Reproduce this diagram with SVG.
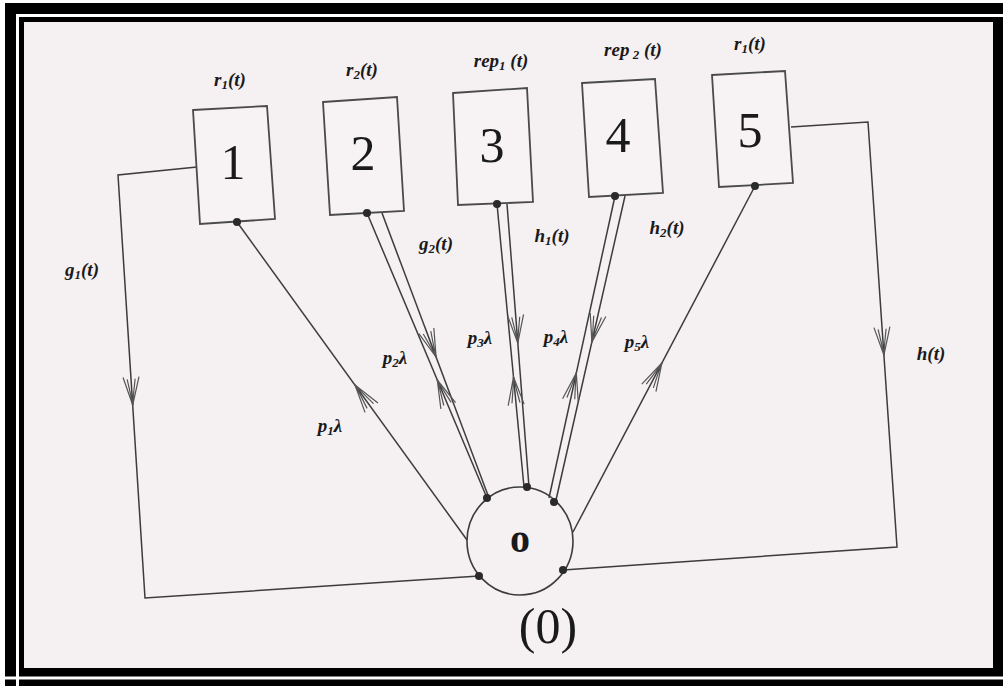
<svg xmlns="http://www.w3.org/2000/svg" width="1006" height="688" viewBox="0 0 1006 688">
<style>
.box{fill:#f7f3f5;stroke:#4a4a4a;stroke-width:1.8}
.ln{fill:none;stroke:#3c3c3c;stroke-width:1.5}
.ah{fill:none;stroke:#3c3c3c;stroke-width:1.5;marker-end:url(#arr)}
.dot{fill:#2a2a2a}
.num{font-family:"Liberation Serif",serif;font-size:50px;fill:#1a1a1a;text-anchor:middle}
.lab{font-family:"Liberation Serif",serif;font-size:19px;font-style:italic;font-weight:bold;fill:#1a1a1a;text-anchor:middle}
.sub{font-size:13px}
</style>
<defs>
<marker id="arr" markerUnits="userSpaceOnUse" viewBox="-32 -14 36 28" markerWidth="36" markerHeight="28" refX="0" refY="0" orient="auto" overflow="visible">
<path d="M-28,-8 L0,0 L-28,8 M-26,-4 L-2,0 L-26,4" fill="none" stroke="#555555" stroke-width="1.2"/>
</marker>
</defs>
<rect x="0" y="0" width="1006" height="688" fill="#ffffff"/>
<rect x="5" y="3" width="998" height="683" fill="#000000"/>
<path d="M17.5,686 V15.5 H1003 M5,678 H1003" fill="none" stroke="#ffffff" stroke-width="3"/>
<rect x="24" y="22" width="969" height="646" fill="#f5f0f2"/>

<g id="connectors">
<polyline class="ln" points="197,167 118,175 145,598 479,576"/>
<polyline class="ln" points="791,127 868,122 897,547 563,570"/>
<path class="ah" d="M132.1,395 L132.7,405"/>
<path class="ah" d="M883.2,345 L883.9,355"/>
<line class="ln" x1="237" y1="222" x2="467" y2="540"/>
<path class="ah" d="M360.9,393.1 L355,385"/>
<line class="ln" x1="367" y1="213" x2="487" y2="498"/>
<line class="ln" x1="382" y1="213" x2="489" y2="498"/>
<path class="ah" d="M432.6,347.6 L436.1,357"/>
<path class="ah" d="M441.2,389.2 L437.3,380"/>
<line class="ln" x1="497" y1="204" x2="524" y2="487"/>
<line class="ln" x1="507" y1="204" x2="529" y2="487"/>
<path class="ah" d="M517,333 L517.8,343"/>
<path class="ah" d="M514.45,386.95 L513.5,377"/>
<line class="ln" x1="615" y1="196" x2="549" y2="498"/>
<line class="ln" x1="625" y1="196" x2="556" y2="500"/>
<path class="ah" d="M594.1,332.2 L591.9,342"/>
<path class="ah" d="M574.2,382.8 L576.3,373"/>
<line class="ln" x1="755" y1="186" x2="573" y2="532"/>
<path class="ah" d="M657.25,371.85 L661.9,363"/>
</g>

<g id="node-1">
<polygon class="box" points="193,110 267,106 275,219 200,224"/>
<text class="num" x="233" y="179">1</text>
<circle class="dot" cx="237" cy="222" r="4"/>
<text class="lab" x="230" y="86">r<tspan class="sub" dy="3">1</tspan><tspan dy="-3">(t)</tspan></text>
</g>
<g id="node-2">
<polygon class="box" points="323,102 397,97 404,211 330,215"/>
<text class="num" x="363" y="170">2</text>
<circle class="dot" cx="367" cy="213" r="4"/>
<text class="lab" x="362" y="76">r<tspan class="sub" dy="3">2</tspan><tspan dy="-3">(t)</tspan></text>
</g>
<g id="node-3">
<polygon class="box" points="453,93 527,88 533,202 458,205"/>
<text class="num" x="492" y="162">3</text>
<circle class="dot" cx="497" cy="204" r="4"/>
<text class="lab" x="501" y="67">rep<tspan class="sub" dy="3">1</tspan><tspan dy="-3"> (t)</tspan></text>
</g>
<g id="node-4">
<polygon class="box" points="582,83 655,79 663,193 589,197"/>
<text class="num" x="618" y="152">4</text>
<circle class="dot" cx="615" cy="196" r="4"/>
<text class="lab" x="633" y="56">rep<tspan class="sub" dy="3"> 2</tspan><tspan dy="-3"> (t)</tspan></text>
</g>
<g id="node-5">
<polygon class="box" points="712,75 785,71 793,183 719,187"/>
<text class="num" x="750" y="147">5</text>
<circle class="dot" cx="755" cy="186" r="4"/>
<text class="lab" x="750" y="50">r<tspan class="sub" dy="3">1</tspan><tspan dy="-3">(t)</tspan></text>
</g>
<g id="node-0">
<ellipse cx="520" cy="541" rx="53" ry="54" fill="none" stroke="#3c3c3c" stroke-width="1.6"/>
<text x="520" y="552" font-family="Liberation Serif,serif" font-size="40" font-weight="bold" fill="#1a1a1a" text-anchor="middle">o</text>
<circle class="dot" cx="487" cy="498" r="4"/>
<circle class="dot" cx="527" cy="487" r="4"/>
<circle class="dot" cx="554" cy="502" r="4"/>
<circle class="dot" cx="479" cy="576" r="4"/>
<circle class="dot" cx="563" cy="570" r="4"/>
<text x="548" y="643" font-family="Liberation Serif,serif" font-size="50" fill="#1a1a1a" text-anchor="middle">(0)</text>
</g>

<g id="labels">
<text class="lab" x="82" y="276">g<tspan class="sub" dy="3">1</tspan><tspan dy="-3">(t)</tspan></text>
<text class="lab" x="436" y="250">g<tspan class="sub" dy="3">2</tspan><tspan dy="-3">(t)</tspan></text>
<text class="lab" x="552" y="242">h<tspan class="sub" dy="3">1</tspan><tspan dy="-3">(t)</tspan></text>
<text class="lab" x="667" y="234">h<tspan class="sub" dy="3">2</tspan><tspan dy="-3">(t)</tspan></text>
<text class="lab" x="931" y="360">h(t)</text>
<text class="lab" x="330" y="432">p<tspan class="sub" dy="3">1</tspan><tspan dy="-3">λ</tspan></text>
<text class="lab" x="395" y="364">p<tspan class="sub" dy="3">2</tspan><tspan dy="-3">λ</tspan></text>
<text class="lab" x="480" y="344">p<tspan class="sub" dy="3">3</tspan><tspan dy="-3">λ</tspan></text>
<text class="lab" x="556" y="343">p<tspan class="sub" dy="3">4</tspan><tspan dy="-3">λ</tspan></text>
<text class="lab" x="637" y="348">p<tspan class="sub" dy="3">5</tspan><tspan dy="-3">λ</tspan></text>
</g>
</svg>
